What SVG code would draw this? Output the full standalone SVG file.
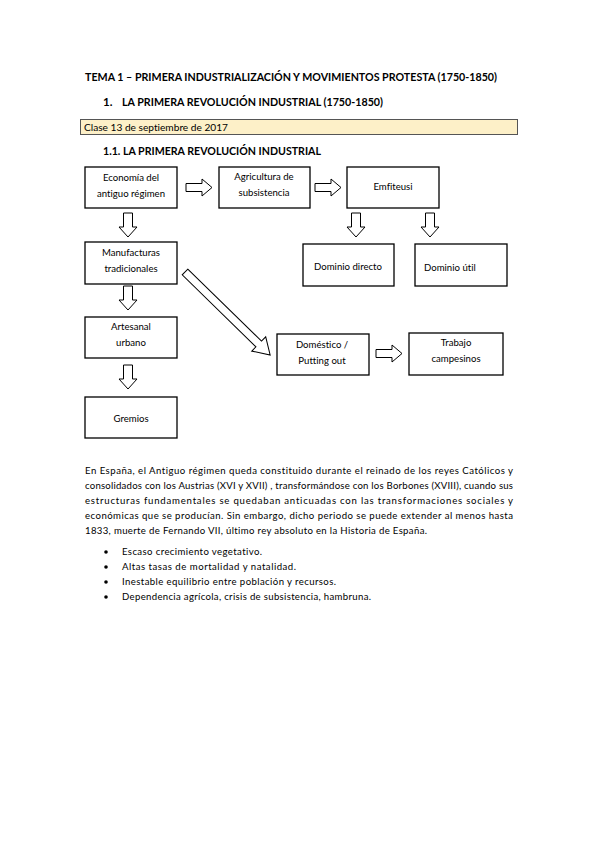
<svg xmlns="http://www.w3.org/2000/svg" width="599" height="848" viewBox="0 0 599 848">
<style>
text{font-family:Lato,"Open Sans","Liberation Sans",sans-serif;fill:#000;font-variant-ligatures:none;}
.h{font-weight:bold;font-size:11.5px;}
.t{font-size:9.6px;}
.c{text-anchor:middle;}
.box{fill:#fff;stroke:#000;stroke-width:1.3;}
.arr{fill:#fff;stroke:#000;stroke-width:1;stroke-linejoin:miter;}
</style>
<defs>
<path id="ar" class="arr" d="M0,-4 H16 V-8.5 L26,0 L16,8.5 V4 H0 Z"/>
<path id="ad" class="arr" d="M-4.5,0 V14 H-9 L0,24 L9,14 H4.5 V0 Z"/>
</defs>
<rect width="599" height="848" fill="#fff"/>
<text class="h" x="85" y="81" textLength="412" lengthAdjust="spacingAndGlyphs">TEMA 1 – PRIMERA INDUSTRIALIZACIÓN Y MOVIMIENTOS PROTESTA (1750-1850)</text>
<text class="h" x="103" y="106">1.</text>
<text class="h" x="122" y="106" textLength="261" lengthAdjust="spacingAndGlyphs">LA PRIMERA REVOLUCIÓN INDUSTRIAL (1750-1850)</text>
<rect x="80.5" y="119.5" width="437" height="15" fill="#fdf0c8" stroke="#555" stroke-width="1"/>
<text class="t" x="84" y="130.5" textLength="144" lengthAdjust="spacingAndGlyphs">Clase 13 de septiembre de 2017</text>
<text class="h" x="103" y="155" textLength="218" lengthAdjust="spacingAndGlyphs">1.1. LA PRIMERA REVOLUCIÓN INDUSTRIAL</text>

<g id="connectors">
<use href="#ar" x="186" y="187.5"/>
<use href="#ar" x="315" y="187.5"/>
<use href="#ar" x="376" y="353.5"/>
<use href="#ad" x="128" y="213"/>
<use href="#ad" x="128" y="286"/>
<use href="#ad" x="128" y="365"/>
<use href="#ad" x="356" y="213"/>
<use href="#ad" x="430" y="213"/>
<path class="arr" transform="translate(185,272) rotate(44.3)" d="M0,-4 H103 V-10 L119,0 L103,10 V4 H0 Z"/>
</g>

<g id="economia"><rect class="box" x="85" y="167" width="92" height="41"/>
<text class="t c" x="131" y="181">Economía del</text><text class="t c" x="131" y="197">antiguo régimen</text></g>
<g id="agricultura"><rect class="box" x="219" y="167" width="91" height="41"/>
<text class="t c" x="264" y="180">Agricultura de</text><text class="t c" x="264" y="196">subsistencia</text></g>
<g id="emfiteusi"><rect class="box" x="347" y="167" width="92" height="41"/>
<text class="t c" x="393" y="190">Emfiteusi</text></g>
<g id="dominio-directo"><rect class="box" x="303" y="244" width="91" height="42"/>
<text class="t c" x="348" y="270">Dominio directo</text></g>
<g id="dominio-util"><rect class="box" x="415" y="244" width="92" height="42"/>
<text class="t" x="424" y="271">Dominio útil</text></g>
<g id="manufacturas"><rect class="box" x="85" y="242" width="92" height="42"/>
<text class="t c" x="131" y="256">Manufacturas</text><text class="t c" x="131" y="272">tradicionales</text></g>
<g id="artesanal"><rect class="box" x="85" y="317" width="92" height="41"/>
<text class="t c" x="131" y="330">Artesanal</text><text class="t c" x="131" y="346">urbano</text></g>
<g id="gremios"><rect class="box" x="85" y="397" width="92" height="41"/>
<text class="t c" x="131" y="422">Gremios</text></g>
<g id="domestico"><rect class="box" x="277" y="334" width="92" height="41"/>
<text class="t c" x="322" y="348">Doméstico /</text><text class="t c" x="322" y="364">Putting out</text></g>
<g id="trabajo"><rect class="box" x="409" y="333" width="94" height="42"/>
<text class="t c" x="456" y="346">Trabajo</text><text class="t c" x="456" y="362">campesinos</text></g>

<text class="t" x="85" y="474" textLength="428" lengthAdjust="spacing">En España, el Antiguo régimen queda constituido durante el reinado de los reyes Católicos y</text>
<text class="t" x="85" y="489" textLength="428" lengthAdjust="spacing">consolidados con los Austrias (XVI y XVII) , transformándose con los Borbones (XVIII), cuando sus</text>
<text class="t" x="85" y="504" textLength="428" lengthAdjust="spacing">estructuras fundamentales se quedaban anticuadas con las transformaciones sociales y</text>
<text class="t" x="85" y="519" textLength="428" lengthAdjust="spacing">económicas que se producían. Sin embargo, dicho periodo se puede extender al menos hasta</text>
<text class="t" x="85" y="534" textLength="342" lengthAdjust="spacing">1833, muerte de Fernando VII, último rey absoluto en la Historia de España.</text>

<g fill="#000"><circle cx="106" cy="552" r="1.8"/><circle cx="106" cy="567" r="1.8"/><circle cx="106" cy="582" r="1.8"/><circle cx="106" cy="597" r="1.8"/></g>
<text class="t" x="122" y="555" textLength="140" lengthAdjust="spacing">Escaso crecimiento vegetativo.</text>
<text class="t" x="122" y="570" textLength="174" lengthAdjust="spacing">Altas tasas de mortalidad y natalidad.</text>
<text class="t" x="122" y="585" textLength="214" lengthAdjust="spacing">Inestable equilibrio entre población y recursos.</text>
<text class="t" x="122" y="600" textLength="249" lengthAdjust="spacing">Dependencia agrícola, crisis de subsistencia, hambruna.</text>
</svg>
